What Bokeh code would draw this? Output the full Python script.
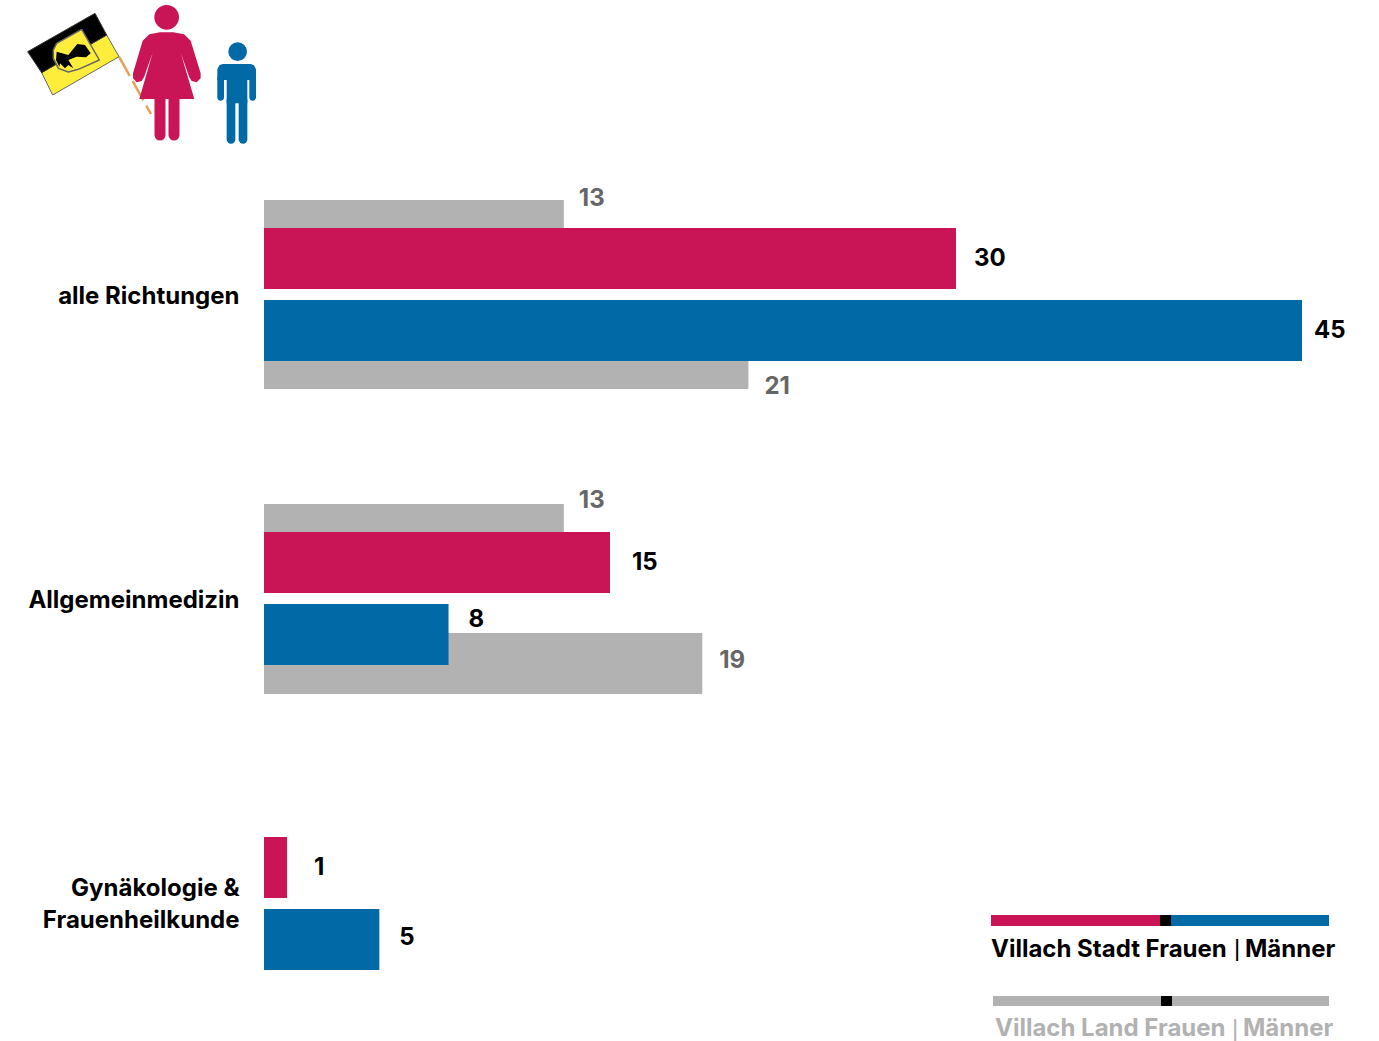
from bokeh.plotting import figure
from bokeh.models import Range1d, ColumnDataSource
from bokeh.core.properties import value
from bokeh.embed import file_html
from bokeh.resources import INLINE

# ---- data
categories = ["alle Richtungen", "Allgemeinmedizin", "Gynäkologie &\nFrauenheilkunde"]
stadt_frauen = [30, 15, 1]
stadt_maenner = [45, 8, 5]
land_frauen = [13, 13]
land_maenner = [21, 19]
legend_stadt = ["Villach Stadt Frauen", "Männer"]
legend_land = ["Villach Land Frauen", "Männer"]

# ---- colours / layout (page pixels)
CRIMSON, BLUE, GREY, GREY_TXT = "#C91555", "#0069A6", "#B2B2B2", "#666666"
FONT = value("Inter")
FS = "24px"
W, H = 1379, 1041
SHIFT_X, SHIFT_Y = 0.5, 0.5
X0, X45 = 264.0 - SHIFT_X, 1302.0 - SHIFT_X
k = (X45 - X0) / 45

p = figure(width=W, height=H, output_backend="svg", toolbar_location=None,
           x_range=Range1d(-X0 / k, (W - X0) / k), y_range=Range1d(H + SHIFT_Y, SHIFT_Y),
           min_border=0, outline_line_color=None, background_fill_color="white",
           x_axis_type=None, y_axis_type=None, margin=(0, 0, 0, 0))
p.grid.visible = False
p.extra_x_ranges = {"px": Range1d(SHIFT_X, W + SHIFT_X)}

# ---- bars
def bars(values, tops, hgt, color):
    src = ColumnDataSource(dict(r=values, top=tops, bottom=[t + hgt for t in tops]))
    p.quad(left=0, right="r", top="top", bottom="bottom", source=src,
           fill_color=color, line_color=None)

bars(land_frauen, [200, 504], 28, GREY)
bars(land_maenner[:1], [361], 28, GREY)
bars(land_maenner[1:], [633], 61, GREY)
bars(stadt_frauen, [228, 532, 837], 61, CRIMSON)
bars(stadt_maenner, [300, 604, 909], 61, BLUE)

# ---- value labels
def labels(values, ys, offs, color):
    src = ColumnDataSource(dict(x=values, y=ys, o=offs, t=[str(v) for v in values]))
    p.text(x="x", y="y", text="t", x_offset="o", source=src, text_font=FONT,
           text_font_size=FS, text_font_style="bold", text_color=color,
           text_baseline="middle", text_align="left")

labels(stadt_frauen, [257, 561, 866], [18, 22, 27], "#000000")
labels(stadt_maenner, [329, 618, 936], [12, 20, 20], "#000000")
labels(land_frauen, [197, 499], [15, 15], GREY_TXT)
labels(land_maenner, [385, 659], [16, 17], GREY_TXT)

# ---- category labels
cat_lines = [categories[0], categories[1]] + categories[2].split("\n")
p.text(x=[239.5] * 4, y=[295, 599, 887, 919], text=cat_lines, x_range_name="px",
       text_font=FONT, text_font_size=FS, text_font_style="bold",
       text_color="#000000", text_align="right", text_baseline="middle")

# ---- legend
p.quad(left=[991, 1160, 1171], right=[1160, 1171, 1329], top=[915] * 3, bottom=[926] * 3,
       fill_color=[CRIMSON, "#000000", BLUE], line_color=None, x_range_name="px")
p.quad(left=[993, 1161, 1172], right=[1161, 1172, 1329], top=[996] * 3, bottom=[1006] * 3,
       fill_color=[GREY, "#000000", GREY], line_color=None, x_range_name="px")
p.text(x=[991, 1245], y=[948] * 2, text=legend_stadt, x_range_name="px",
       text_font=FONT, text_font_size=FS, text_font_style="bold",
       text_color="#000000", text_baseline="middle")
p.text(x=[995, 1243], y=[1027] * 2, text=legend_land, x_range_name="px",
       text_font=FONT, text_font_size=FS, text_font_style="bold",
       text_color=GREY, text_baseline="middle")
p.text(x=[1237], y=[947], text=["|"], x_range_name="px", text_font=value("Liberation Sans"),
       text_font_size="24px", text_color="#000000", text_align="center", text_baseline="middle")
p.text(x=[1235], y=[1027], text=["|"], x_range_name="px", text_font=value("Liberation Sans"),
       text_font_size="24px", text_color=GREY, text_align="center", text_baseline="middle")

# ---- pictograms (zoom-crop coordinates / 3)
def Z(pts):
    return [a / 3 for a, _ in pts], [b / 3 for _, b in pts]

# flag
p.line(*Z([(357, 170), (453, 342)]), line_color="#E8A15A", line_width=2.5, line_dash="22 6",
       x_range_name="px")
xs, ys = Z([(125, 218), (320, 105), (357, 170), (158, 285)])
p.patch(xs, ys, fill_color="#FFED3B", line_color="#666666", line_width=1, x_range_name="px")
xs, ys = Z([(83, 155), (285, 40), (320, 105), (125, 218)])
p.patch(xs, ys, fill_color="#000000", line_color="#333333", line_width=1, x_range_name="px")
xs, ys = Z([(170, 130), (245, 88), (298, 180), (235, 208), (205, 216), (175, 205), (160, 175), (160, 150)])
p.patch(xs, ys, fill_color="#FFED3B", line_color="#666666", line_width=1.5, x_range_name="px")
xs, ys = Z([(170, 155), (205, 165), (232, 132), (255, 135), (272, 160), (258, 172), (230, 170),
            (205, 180), (220, 205), (205, 195), (195, 205), (180, 190), (178, 200), (168, 180)])
p.patch(xs, ys, fill_color="#000000", line_color=None, x_range_name="px")

# woman
p.circle(x=[500 / 3], y=[52 / 3], radius=37 / 3, fill_color=CRIMSON, line_color=None, x_range_name="px")
xs, ys = Z([(480, 97), (520, 97), (552, 103), (572, 122), (602, 220), (602, 235), (590, 247), (575, 243),
            (568, 232), (542, 158), (583, 297), (418, 297), (458, 158), (432, 232), (425, 243), (410, 247),
            (399, 235), (399, 220), (428, 122), (448, 103)])
p.patch(xs, ys, fill_color=CRIMSON, line_color=None, x_range_name="px")
for lx in (480, 522):
    p.line(*Z([(lx, 297), (lx, 405)]), line_color=CRIMSON, line_width=11, line_cap="round", x_range_name="px")

# man
p.circle(x=[713 / 3], y=[155 / 3], radius=28 / 3, fill_color=BLUE, line_color=None, x_range_name="px")
xs, ys = Z([(668, 192), (752, 192), (762, 196), (768, 208), (768, 240), (742, 240), (742, 310), (680, 310),
            (680, 240), (652, 240), (652, 208), (658, 196)])
p.patch(xs, ys, fill_color=BLUE, line_color=None, x_range_name="px")
for ax in (662, 758):
    p.line(*Z([(ax, 235), (ax, 292)]), line_color=BLUE, line_width=6.7, line_cap="round", x_range_name="px")
for lx in (693, 729):
    p.line(*Z([(lx, 300), (lx, 418)]), line_color=BLUE, line_width=8.7, line_cap="round", x_range_name="px")

open("out.html", "w").write(file_html(p, INLINE))
